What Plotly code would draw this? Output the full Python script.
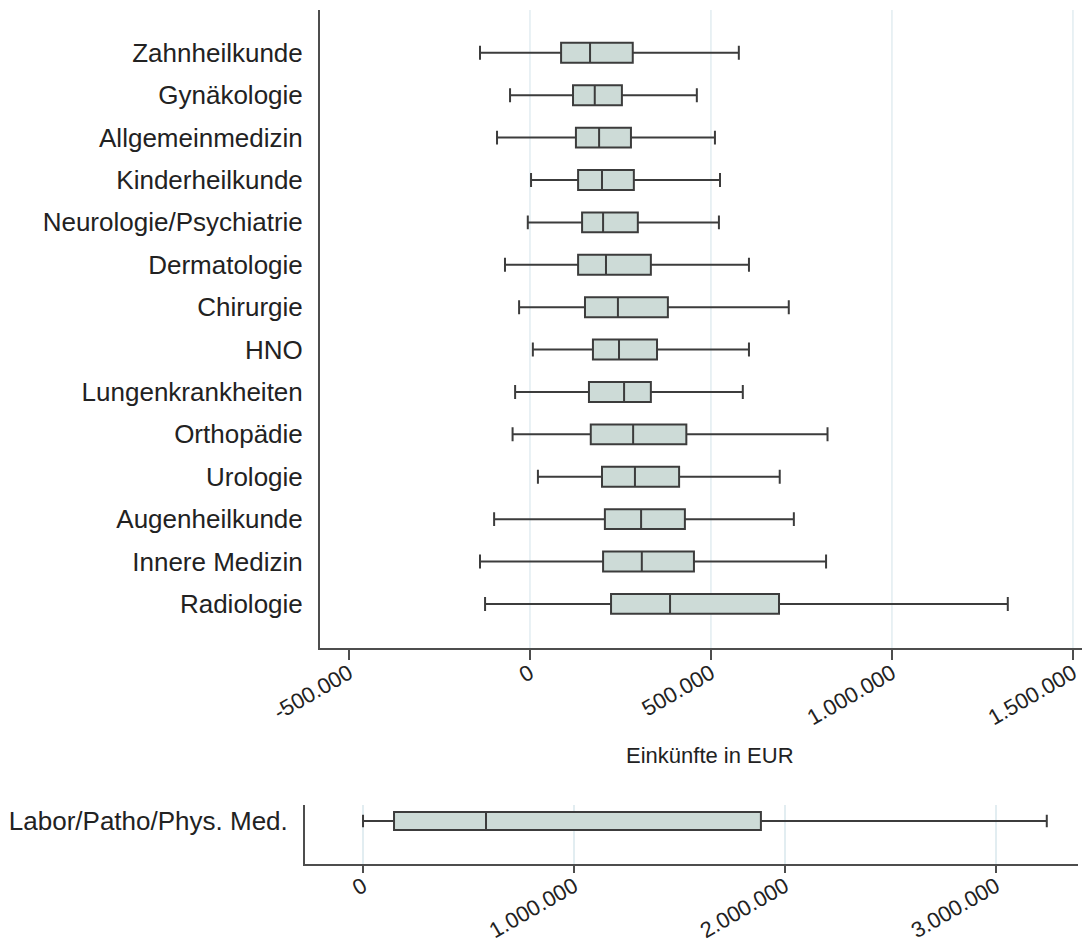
import plotly.graph_objects as go

# Fachgruppen (Reihenfolge von oben nach unten)
categories = [
    "Zahnheilkunde", "Gynäkologie", "Allgemeinmedizin", "Kinderheilkunde",
    "Neurologie/Psychiatrie", "Dermatologie", "Chirurgie", "HNO",
    "Lungenkrankheiten", "Orthopädie", "Urologie", "Augenheilkunde",
    "Innere Medizin", "Radiologie",
]
# Kennwerte der Einkünfte in EUR
lower_whisker = [-138000, -55000, -91000, 3000, -6000, -69000, -30000, 8000,
                 -41000, -48000, 22000, -99000, -138000, -124000]
q1 = [86000, 119000, 127000, 133000, 144000, 133000, 152000, 174000,
      163000, 168000, 199000, 207000, 202000, 224000]
median = [166000, 179000, 191000, 199000, 202000, 210000, 243000, 246000,
          260000, 285000, 290000, 307000, 309000, 387000]
q3 = [284000, 254000, 279000, 287000, 298000, 334000, 381000, 351000,
      334000, 432000, 412000, 428000, 453000, 688000]
upper_whisker = [577000, 461000, 511000, 525000, 522000, 605000, 715000, 605000,
                 588000, 822000, 690000, 729000, 818000, 1320000]

lab_category = ["Labor/Patho/Phys. Med."]
lab_lower = [0]
lab_q1 = [147000]
lab_median = [583000]
lab_q3 = [1886000]
lab_upper = [3241000]

top_tickvals = [-500000, 0, 500000, 1000000, 1500000]
top_ticktext = ["-500.000", "0", "500.000", "1.000.000", "1.500.000"]
top_grid = [0, 500000, 1000000, 1500000]
bottom_tickvals = [0, 1000000, 2000000, 3000000]
bottom_ticktext = ["0", "1.000.000", "2.000.000", "3.000.000"]

W, H = 1092, 946
FONT = "Liberation Sans, Arial, sans-serif"
BOX_FILL = "#cddbd7"
LINE = "#3c3c3c"
AXIS = "#4d4d4d"
GRID = "#e2edf1"

box_style = dict(
    orientation="h",
    fillcolor=BOX_FILL,
    line=dict(color=LINE, width=2),
    whiskerwidth=0.7,
    boxpoints=False,
    showlegend=False,
    hoverinfo="skip",
)

fig = go.Figure()
fig.add_trace(go.Box(
    y=categories, q1=q1, median=median, q3=q3,
    lowerfence=lower_whisker, upperfence=upper_whisker,
    width=0.47, xaxis="x", yaxis="y", **box_style,
))
fig.add_trace(go.Box(
    y=lab_category, q1=lab_q1, median=lab_median, q3=lab_q3,
    lowerfence=lab_lower, upperfence=lab_upper,
    width=0.42, xaxis="x2", yaxis="y2", **box_style,
))

# vertical grid lines of the upper panel (none at -500.000)
shapes = [
    dict(type="line", xref="x", yref="y domain", x0=g, x1=g, y0=0, y1=1,
         line=dict(color=GRID, width=1.5), layer="below")
    for g in top_grid
]

tick_font = dict(family=FONT, size=22, color="#222222")
label_font = dict(family=FONT, size=26, color="#222222")

common_x = dict(
    ticks="outside", tickwidth=2, tickcolor=AXIS, tickangle=-30,
    ticklabelstandoff=-8,
    showline=True, linecolor=AXIS, linewidth=2,
    zeroline=False, tickfont=tick_font, automargin=False,
)
common_y = dict(
    type="category",
    ticks="outside", ticklen=10, tickcolor="rgba(0,0,0,0)",
    showline=True, linecolor=AXIS, linewidth=2,
    showgrid=False, zeroline=False, tickfont=label_font, automargin=False,
)

fig.update_layout(
    width=W, height=H,
    margin=dict(l=0, r=0, t=0, b=0, autoexpand=False),
    paper_bgcolor="white", plot_bgcolor="white",
    shapes=shapes,
    xaxis=dict(
        domain=[320 / W, 1082 / W], anchor="y",
        range=[-580000, 1525000],
        tickvals=top_tickvals, ticktext=top_ticktext,
        ticklen=10, showgrid=False, **common_x,
    ),
    yaxis=dict(
        domain=[1 - 648 / H, 1 - 10 / H], anchor="x",
        categoryorder="array", categoryarray=categories,
        range=[14.04, -1.01], **common_y,
    ),
    xaxis2=dict(
        domain=[305 / W, 1078 / W], anchor="y2",
        range=[-275000, 3389000],
        tickvals=bottom_tickvals, ticktext=bottom_ticktext,
        ticklen=7, showgrid=True, gridcolor=GRID, gridwidth=1.5,
        **common_x,
    ),
    yaxis2=dict(
        domain=[1 - 864 / H, 1 - 805 / H], anchor="x2",
        range=[1.014, -0.377], **common_y,
    ),
    annotations=[
        dict(text="Einkünfte in EUR", xref="paper", yref="paper",
             x=710 / W, y=1 - 755 / H, showarrow=False,
             xanchor="center", yanchor="middle",
             font=dict(family=FONT, size=22, color="#222222")),
    ],
)

fig.write_html("out.html")
